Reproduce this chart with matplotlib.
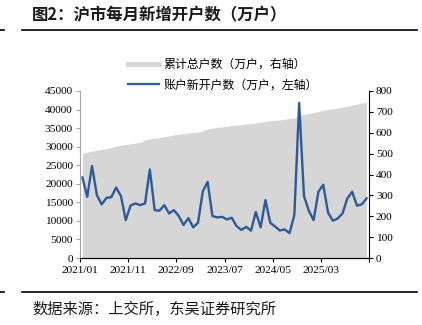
import numpy as np
import matplotlib
matplotlib.use('Agg')
from matplotlib import pyplot as plt
from matplotlib.lines import Line2D

plt.rcParams['font.family'] = ['Noto Sans CJK SC', 'DejaVu Sans']

# ---- Daten ----
# 累计总户数 (万户, 右轴), 2021/01 .. 2025/12
total = [500, 507, 512, 516, 520, 524, 529, 535, 540, 544,
         547, 550, 554, 565, 571, 574, 577, 581, 585, 590,
         593, 596, 599, 601, 603, 608, 618, 622, 625, 628,
         631, 634, 637, 640, 642, 644, 646, 649, 655, 657,
         659, 662, 665, 668, 671, 682, 688, 693, 697, 701,
         708, 712, 715, 718, 722, 727, 732, 737, 742, 748]

# 账户新开户数 (左轴)
new = [21700, 16500, 24800, 16950, 14450, 16200, 16400, 19000, 16700, 10200,
       14150, 14700, 14250, 14700, 23850, 12900, 12750, 14250, 12000, 12900,
       11300, 8900, 10750, 8250, 9500, 18000, 20500, 11300, 10950, 11100,
       10400, 10850, 8600, 7550, 8400, 7350, 12400, 8250, 15600, 9500,
       8500, 7400, 7700, 6700, 11550, 41800, 16700, 12750, 10200, 17850,
       19750, 12200, 10050, 10650, 12000, 16050, 17850, 14100, 14450, 16050]

months = ['%d/%02d' % (2021 + i // 12, i % 12 + 1) for i in range(len(new))]
x = np.arange(len(new)) + 0.5

# ---- Figure ----
W, H = 422, 325
fig = plt.figure(figsize=(W / 100, H / 100), dpi=100)
ax = fig.add_axes([80 / W, (H - 258) / H, (369 - 80) / W, (258 - 91) / H])
ax2 = ax.twinx()

# Fläche (rechte Achse)
ax2.fill_between(x, total, color='#D6D6D6', linewidth=0)
ax2.set_ylim(0, 800)
ax2.set_yticks(range(0, 801, 100))

# Linie (linke Achse), vor der Fläche
ax.set_zorder(ax2.get_zorder() + 1)
ax.patch.set_visible(False)
ax.plot(x, new, color='#2E5B98', lw=1.7)
ax.set_ylim(0, 45000)
ax.set_yticks(range(0, 45001, 5000))

ax.set_xlim(0, 60)
ticks = list(range(0, 61, 10))
ax.set_xticks(ticks)
ax.set_xticklabels([months[t] if t < len(months) else '' for t in ticks])

for a in (ax, ax2):
    a.spines['top'].set_visible(False)
    for lab in a.get_xticklabels() + a.get_yticklabels():
        lab.set_fontfamily('Liberation Serif')
        lab.set_fontsize(8.2)
ax.spines['right'].set_visible(False)
ax.spines['left'].set_color('#A6A6A6')
ax2.spines['left'].set_visible(False)
ax.tick_params(axis='y', length=3, width=0.8, color='#A6A6A6', pad=2)
ax.tick_params(axis='x', length=3, width=0.8, pad=3)
ax2.tick_params(axis='y', length=3, width=0.8, pad=2)

# ---- Legende ----
handles = [Line2D([], [], color='#D6D6D6', lw=3.5),
           Line2D([], [], color='#2E5B98', lw=1.6)]
labels = ['累计总户数（万户，右轴）', '账户新开户数（万户，左轴）']
fig.legend(handles, labels, loc='upper left', bbox_to_anchor=(122 / W, 1 - 52 / H),
           frameon=False, fontsize=8.6, handlelength=2.6, handletextpad=0.35,
           labelspacing=0.6, borderpad=0)

# ---- Titel und Quelle ----
fig.text(32 / W, 1 - 15 / H, '图2：沪市每月新增开户数（万户）', fontsize=11.8,
         fontweight='bold', color='#1A1A1A', va='center', ha='left')
fig.add_artist(Line2D([22 / W, 417 / W], [1 - 30 / H] * 2, color='black', lw=1.2))
fig.add_artist(Line2D([0, 4 / W], [1 - 30 / H] * 2, color='black', lw=1.2))
fig.add_artist(Line2D([22 / W, 417 / W], [1 - 292 / H] * 2, color='black', lw=1.2))
fig.add_artist(Line2D([0, 4 / W], [1 - 292 / H] * 2, color='black', lw=1.2))
fig.text(32 / W, 1 - 309 / H, '数据来源：上交所，东吴证券研究所', fontsize=11,
         color='#1A1A1A', va='center', ha='left')

fig.savefig('out.png', dpi=100)
